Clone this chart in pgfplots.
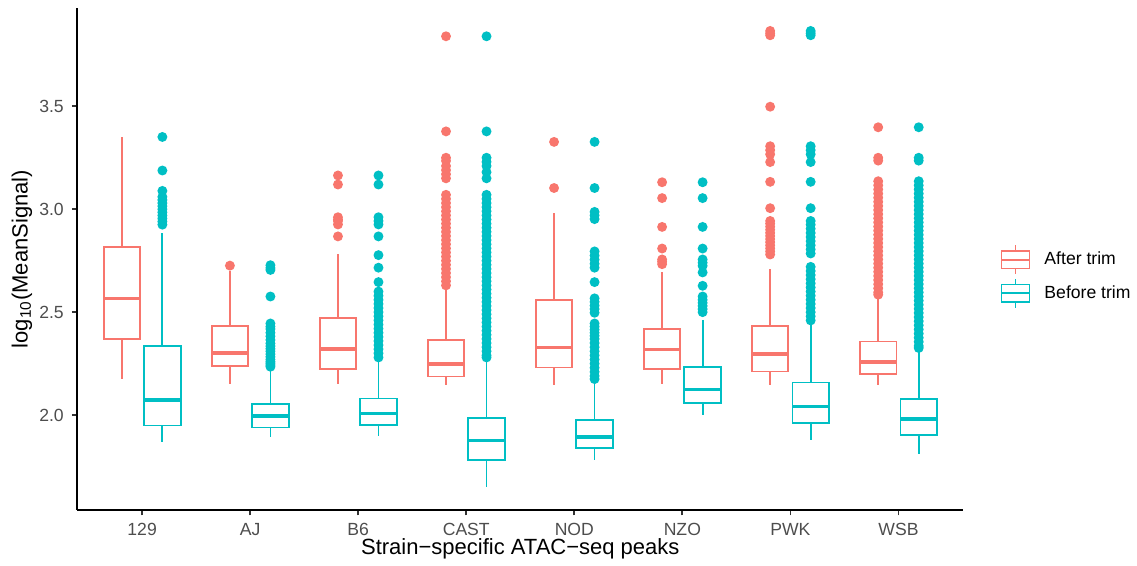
\documentclass[border=0pt]{standalone}
\usepackage{fontspec}
\setmainfont{Liberation Sans}
\usepackage{pgfplots}
\pgfplotsset{compat=1.18}
\usepgfplotslibrary{statistics}
\definecolor{cA}{HTML}{F8766D}
\definecolor{cB}{HTML}{00BFC4}
\definecolor{tickgrey}{HTML}{4D4D4D}
\definecolor{tickline}{HTML}{333333}
\pgfplotsset{
  boxA/.style={draw=cA, line width=0.9pt, mark=*, mark size=2pt, mark options={solid, fill=cA, draw=none}, forget plot},
  boxB/.style={draw=cB, line width=0.9pt, mark=*, mark size=2pt, mark options={solid, fill=cB, draw=none}, forget plot},
}
\begin{document}
\begin{tikzpicture}
\begin{axis}[
  scale only axis, width=443pt, height=250.85pt,
  xmin=0.4, xmax=8.6, ymin=1.539, ymax=3.976,
  axis lines*=left, axis line style={line width=1pt, black},
  xtick={1,2,3,4,5,6,7,8},
  xticklabels={129,AJ,B6,CAST,NOD,NZO,PWK,WSB},
  ytick={2.0,2.5,3.0,3.5}, yticklabels={2.0,2.5,3.0,3.5},
  tick align=outside, major tick length=2.75pt,
  tick style={line width=0.9pt, tickline},
  ticklabel style={font=\fontsize{8.8}{10}\selectfont, text=tickgrey},
  xticklabel style={yshift=-0.5pt},
  yticklabel style={xshift=-0.5pt},
  every axis x label/.style={at={(axis description cs:0.5,-0.0777)}, anchor=center, font=\fontsize{11}{13}\selectfont},
  every axis y label/.style={at={(axis description cs:-0.0624,0.5)}, rotate=90, anchor=center, font=\fontsize{11}{13}\selectfont},
  xlabel={Strain−specific ATAC−seq peaks},
  ylabel={log\textsubscript{10}(MeanSignal)},
  boxplot/draw direction=y,
  boxplot/box extend=0.3375,
  boxplot/whisker extend=0,
  boxplot/every median/.style={line width=1.8pt},
  legend style={at={(1,0.4654)}, anchor=west, xshift=18.7pt, draw=none, fill=none,
    inner sep=0pt, outer sep=0pt, row sep=1.5pt, column sep=7pt,
    font=\fontsize{8.8}{10}\selectfont, nodes={inner sep=0pt}},
  legend cell align=left,
  clip=false,
]
% ---------- 129 ----------
\addplot[boxA, boxplot prepared={draw position=0.8125, lower whisker=2.173, lower quartile=2.368, median=2.567, upper quartile=2.816, upper whisker=3.351}] coordinates {};
\addplot[boxB, boxplot prepared={draw position=1.1875, lower whisker=1.870, lower quartile=1.949, median=2.072, upper quartile=2.334, upper whisker=2.886}]
  table[row sep=\\, y index=0] {y\\ 3.351\\ 3.188\\ 3.089\\ 3.06\\ 3.045\\ 3.03\\ 3.015\\ 3.0\\ 2.985\\ 2.97\\ 2.955\\ 2.94\\ 2.925\\};
% ---------- AJ ----------
\addplot[boxA, boxplot prepared={draw position=1.8125, lower whisker=2.152, lower quartile=2.238, median=2.301, upper quartile=2.434, upper whisker=2.70}]
  table[row sep=\\, y index=0] {y\\ 2.726\\};
\addplot[boxB, boxplot prepared={draw position=2.1875, lower whisker=1.895, lower quartile=1.940, median=1.996, upper quartile=2.054, upper whisker=2.217}]
  table[row sep=\\, y index=0] {y\\ 2.728\\ 2.715\\ 2.705\\ 2.576\\ 2.445\\ 2.43\\ 2.418\\ 2.40\\ 2.383\\ 2.365\\ 2.348\\ 2.335\\ 2.322\\ 2.31\\ 2.296\\ 2.283\\ 2.27\\ 2.26\\ 2.252\\ 2.243\\ 2.235\\};
% ---------- B6 ----------
\addplot[boxA, boxplot prepared={draw position=2.8125, lower whisker=2.152, lower quartile=2.224, median=2.322, upper quartile=2.473, upper whisker=2.781}]
  table[row sep=\\, y index=0] {y\\ 3.164\\ 3.120\\ 2.961\\ 2.950\\ 2.943\\ 2.926\\ 2.868\\};
\addplot[boxB, boxplot prepared={draw position=3.1875, lower whisker=1.898, lower quartile=1.951, median=2.007, upper quartile=2.081, upper whisker=2.27}]
  table[row sep=\\, y index=0] {y\\ 3.164\\ 3.12\\ 2.961\\ 2.943\\ 2.926\\ 2.868\\ 2.777\\ 2.716\\ 2.646\\ 2.60\\ 2.58\\ 2.56\\ 2.54\\ 2.52\\ 2.50\\ 2.48\\ 2.46\\ 2.44\\ 2.42\\ 2.40\\ 2.38\\ 2.36\\ 2.34\\ 2.32\\ 2.30\\ 2.28\\};
% ---------- CAST ----------
\addplot[boxA, boxplot prepared={draw position=3.8125, lower whisker=2.147, lower quartile=2.187, median=2.247, upper quartile=2.364, upper whisker=2.62}]
  table[row sep=\\, y index=0] {y\\ 3.84\\ 3.378\\ 3.25\\ 3.235\\ 3.21\\ 3.19\\ 3.17\\ 3.15\\ 3.07\\ 3.05\\ 3.03\\ 3.01\\ 2.99\\ 2.97\\ 2.95\\ 2.93\\ 2.91\\ 2.89\\ 2.87\\ 2.85\\ 2.83\\ 2.81\\ 2.79\\ 2.77\\ 2.75\\ 2.73\\ 2.71\\ 2.69\\ 2.67\\ 2.65\\ 2.63\\};
\addplot[boxB, boxplot prepared={draw position=4.1875, lower whisker=1.650, lower quartile=1.783, median=1.877, upper quartile=1.986, upper whisker=2.27}]
  table[row sep=\\, y index=0] {y\\ 3.84\\ 3.378\\ 3.25\\ 3.23\\ 3.21\\ 3.18\\ 3.15\\ 3.07\\ 3.05\\ 3.03\\ 3.01\\ 2.99\\ 2.97\\ 2.95\\ 2.93\\ 2.91\\ 2.89\\ 2.87\\ 2.85\\ 2.83\\ 2.81\\ 2.79\\ 2.77\\ 2.75\\ 2.73\\ 2.71\\ 2.69\\ 2.67\\ 2.65\\ 2.63\\ 2.61\\ 2.59\\ 2.57\\ 2.55\\ 2.53\\ 2.51\\ 2.49\\ 2.47\\ 2.45\\ 2.43\\ 2.41\\ 2.39\\ 2.37\\ 2.35\\ 2.33\\ 2.31\\ 2.29\\ 2.28\\};
% ---------- NOD ----------
\addplot[boxA, boxplot prepared={draw position=4.8125, lower whisker=2.147, lower quartile=2.231, median=2.329, upper quartile=2.558, upper whisker=2.984}]
  table[row sep=\\, y index=0] {y\\ 3.327\\ 3.103\\};
\addplot[boxB, boxplot prepared={draw position=5.1875, lower whisker=1.783, lower quartile=1.841, median=1.895, upper quartile=1.976, upper whisker=2.165}]
  table[row sep=\\, y index=0] {y\\ 3.327\\ 3.103\\ 2.987\\ 2.97\\ 2.952\\ 2.795\\ 2.775\\ 2.755\\ 2.735\\ 2.716\\ 2.646\\ 2.567\\ 2.55\\ 2.532\\ 2.515\\ 2.497\\ 2.445\\ 2.43\\ 2.415\\ 2.40\\ 2.385\\ 2.37\\ 2.35\\ 2.33\\ 2.31\\ 2.29\\ 2.27\\ 2.25\\ 2.23\\ 2.21\\ 2.19\\ 2.175\\};
% ---------- NZO ----------
\addplot[boxA, boxplot prepared={draw position=5.8125, lower whisker=2.151, lower quartile=2.224, median=2.319, upper quartile=2.417, upper whisker=2.695}]
  table[row sep=\\, y index=0] {y\\ 3.131\\ 3.054\\ 2.914\\ 2.809\\ 2.756\\ 2.745\\ 2.733\\};
\addplot[boxB, boxplot prepared={draw position=6.1875, lower whisker=1.998, lower quartile=2.060, median=2.124, upper quartile=2.233, upper whisker=2.462}]
  table[row sep=\\, y index=0] {y\\ 3.131\\ 3.054\\ 2.914\\ 2.809\\ 2.756\\ 2.74\\ 2.725\\ 2.693\\ 2.628\\ 2.576\\ 2.56\\ 2.545\\ 2.53\\ 2.515\\ 2.50\\};
% ---------- PWK ----------
\addplot[boxA, boxplot prepared={draw position=6.8125, lower whisker=2.144, lower quartile=2.212, median=2.298, upper quartile=2.432, upper whisker=2.711}]
  table[row sep=\\, y index=0] {y\\ 3.866\\ 3.855\\ 3.845\\ 3.498\\ 3.306\\ 3.287\\ 3.267\\ 3.229\\ 3.133\\ 3.005\\ 2.943\\ 2.93\\ 2.915\\ 2.90\\ 2.885\\ 2.87\\ 2.855\\ 2.84\\ 2.825\\ 2.81\\ 2.795\\ 2.78\\};
\addplot[boxB, boxplot prepared={draw position=7.1875, lower whisker=1.881, lower quartile=1.961, median=2.042, upper quartile=2.158, upper whisker=2.445}]
  table[row sep=\\, y index=0] {y\\ 3.866\\ 3.855\\ 3.845\\ 3.306\\ 3.287\\ 3.267\\ 3.229\\ 3.133\\ 3.005\\ 2.943\\ 2.925\\ 2.905\\ 2.885\\ 2.865\\ 2.845\\ 2.825\\ 2.805\\ 2.785\\ 2.72\\ 2.70\\ 2.68\\ 2.66\\ 2.64\\ 2.62\\ 2.60\\ 2.58\\ 2.56\\ 2.54\\ 2.52\\ 2.50\\ 2.48\\ 2.46\\};
% ---------- WSB ----------
\addplot[boxA, boxplot prepared={draw position=7.8125, lower whisker=2.144, lower quartile=2.198, median=2.257, upper quartile=2.357, upper whisker=2.576}]
  table[row sep=\\, y index=0] {y\\ 3.398\\ 3.25\\ 3.236\\ 3.136\\ 3.116\\ 3.096\\ 3.076\\ 3.056\\ 3.036\\ 3.016\\ 2.996\\ 2.976\\ 2.956\\ 2.936\\ 2.916\\ 2.896\\ 2.876\\ 2.856\\ 2.836\\ 2.816\\ 2.796\\ 2.776\\ 2.756\\ 2.736\\ 2.716\\ 2.696\\ 2.676\\ 2.656\\ 2.636\\ 2.616\\ 2.596\\ 2.585\\};
\addplot[boxB, boxplot prepared={draw position=8.1875, lower whisker=1.811, lower quartile=1.902, median=1.981, upper quartile=2.077, upper whisker=2.322}]
  table[row sep=\\, y index=0] {y\\ 3.398\\ 3.25\\ 3.236\\ 3.136\\ 3.116\\ 3.096\\ 3.076\\ 3.056\\ 3.036\\ 3.016\\ 2.996\\ 2.976\\ 2.956\\ 2.936\\ 2.916\\ 2.896\\ 2.876\\ 2.856\\ 2.836\\ 2.816\\ 2.796\\ 2.776\\ 2.756\\ 2.736\\ 2.716\\ 2.696\\ 2.676\\ 2.656\\ 2.636\\ 2.616\\ 2.596\\ 2.576\\ 2.556\\ 2.536\\ 2.516\\ 2.496\\ 2.476\\ 2.456\\ 2.436\\ 2.416\\ 2.396\\ 2.376\\ 2.356\\ 2.336\\ 2.326\\};
% ---------- legend ----------
\addlegendimage{legend image code/.code={
  \draw[cA, line width=0.9pt] (0pt,-4.4pt) rectangle (14pt,4.4pt);
  \draw[cA, line width=0.9pt] (0pt,0pt) -- (14pt,0pt);
  \draw[cA, line width=0.9pt] (7pt,4.4pt) -- (7pt,7.2pt);
  \draw[cA, line width=0.9pt] (7pt,-4.4pt) -- (7pt,-7.2pt);}}
\addlegendentry{After trim}
\addlegendimage{legend image code/.code={
  \draw[cB, line width=0.9pt] (0pt,-4.4pt) rectangle (14pt,4.4pt);
  \draw[cB, line width=0.9pt] (0pt,0pt) -- (14pt,0pt);
  \draw[cB, line width=0.9pt] (7pt,4.4pt) -- (7pt,7.2pt);
  \draw[cB, line width=0.9pt] (7pt,-4.4pt) -- (7pt,-7.2pt);}}
\addlegendentry{Before trim}
\end{axis}
\useasboundingbox (-38.65pt,-27pt) rectangle (529.85pt,255pt);
\end{tikzpicture}
\end{document}
